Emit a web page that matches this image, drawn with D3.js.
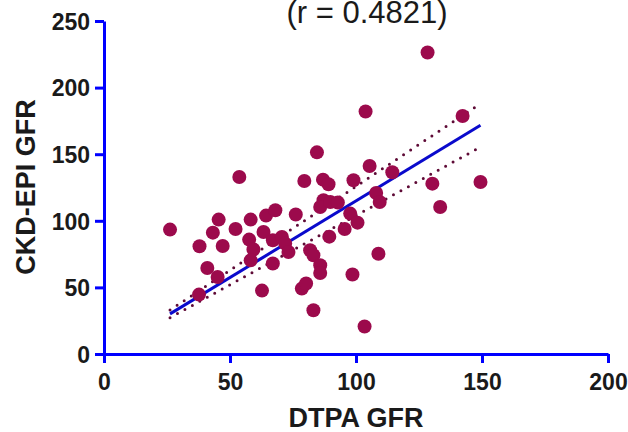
<!DOCTYPE html>
<html>
<head>
<meta charset="utf-8">
<script src="https://cdn.jsdelivr.net/npm/d3@7"></script>
<style>
  body { margin: 0; background: #fff; }
  svg { display: block; font-family: "Liberation Sans", Arial, sans-serif; }
</style>
</head>
<body>
<div id="chart"></div>
<script>
// DTPA GFR (x) vs CKD-EPI GFR (y)
var dtpa = [26.2, 37.9, 37.7, 41.0, 43.2, 45.5, 47.1, 45.1, 52.2, 53.7,
            58.2, 57.6, 59.3, 58.2, 62.7, 63.3, 64.3, 68.0, 67.0, 67.0,
            70.6, 71.9, 73.2, 76.1, 79.5, 84.5, 86.9, 89.1, 99.0, 105.4,
            114.4, 87.1, 85.8, 89.8, 92.8, 97.7, 100.6, 95.5, 89.4, 108.0,
            109.4, 81.8, 83.1, 85.8, 85.8, 108.9, 98.6, 78.5, 80.2, 83.1,
            103.4, 128.4, 142.3, 130.3, 149.4, 103.8, 133.4];
var ckdEpi = [93.4, 80.9, 44.6, 64.6, 91.1, 100.9, 81.1, 57.8, 93.8, 132.9,
              100.9, 85.9, 78.4, 70.3, 47.6, 91.6, 103.9, 107.9, 85.4, 67.9,
              87.8, 82.9, 76.6, 104.7, 129.9, 151.4, 130.9, 127.4, 130.4, 141.1,
              136.4, 115.4, 110.4, 114.1, 113.7, 105.4, 98.6, 93.8, 88.1, 120.9,
              114.1, 77.9, 74.1, 66.6, 60.8, 75.3, 59.7, 49.1, 52.9, 32.8,
              20.7, 226.3, 178.7, 127.9, 129.1, 182.1, 110.4];
var xTicks = [0, 50, 100, 150, 200];
var yTicks = [0, 50, 100, 150, 200, 250];
var rText = "(r = 0.4821)";

var W = 628, H = 432;
var svg = d3.select('#chart').append('svg')
    .attr('width', W).attr('height', H);

var x = d3.scaleLinear().domain([0, 200]).range([104, 608]);
var y = d3.scaleLinear().domain([0, 250]).range([354, 21]);

var axisColor = '#0000ff';

// fit through origin + 95% band
var pts = dtpa.map(function(d, i){ return {x: d, y: ckdEpi[i]}; });
var sxx = d3.sum(pts, function(p){ return p.x * p.x; });
var sxy = d3.sum(pts, function(p){ return p.x * p.y; });
var slope = sxy / sxx;
var n = pts.length;
var sse = d3.sum(pts, function(p){ var e = p.y - slope * p.x; return e * e; });
var se = Math.sqrt(sse / (n - 1)) / Math.sqrt(sxx);
var tval = 2.003;
var xr = d3.extent(dtpa);
var fitX = d3.range(xr[0], xr[1] + 0.001, (xr[1] - xr[0]) / 40);

var line = d3.line().x(function(d){ return x(d[0]); }).y(function(d){ return y(d[1]); });

// axes
var gx = svg.append('g').attr('transform', 'translate(0,' + y(0) + ')')
    .call(d3.axisBottom(x).tickValues(xTicks).tickSize(9).tickSizeOuter(0).tickPadding(11));
var gy = svg.append('g').attr('transform', 'translate(' + x(0) + ',0)')
    .call(d3.axisLeft(y).tickValues(yTicks).tickSize(9).tickSizeOuter(0).tickPadding(5));
[gx, gy].forEach(function(g){
  g.select('.domain').attr('stroke', axisColor).attr('stroke-width', 3);
  g.selectAll('.tick line').attr('stroke', axisColor).attr('stroke-width', 3);
  g.selectAll('.tick text').attr('fill', '#1a1a1a')
    .attr('font-size', '23px').attr('font-weight', 'bold')
    .attr('font-family', '"Liberation Sans", Arial, sans-serif');
});
gy.selectAll('.tick text').attr('dy', '0.36em');

// confidence band (dotted)
[1, -1].forEach(function(sgn){
  svg.append('path')
    .datum(fitX.map(function(v){ return [v, slope * v + sgn * tval * se * v]; }))
    .attr('d', line)
    .attr('fill', 'none')
    .attr('stroke', '#5e0a36')
    .attr('stroke-width', 3)
    .attr('stroke-linecap', 'round')
    .attr('stroke-dasharray', '0 8.5');
});

// fitted line
svg.append('path')
  .datum([[xr[0], slope * xr[0]], [xr[1], slope * xr[1]]])
  .attr('d', line)
  .attr('fill', 'none')
  .attr('stroke', '#0a0acc')
  .attr('stroke-width', 3);

// points
svg.append('g').selectAll('circle')
  .data(pts).enter().append('circle')
  .attr('cx', function(d){ return x(d.x); })
  .attr('cy', function(d){ return y(d.y); })
  .attr('r', 7)
  .attr('fill', '#9c0a4c');

// titles
svg.append('text')
  .attr('x', 367).attr('y', 23)
  .attr('text-anchor', 'middle')
  .attr('font-size', '31px')
  .attr('fill', '#1a1a1a')
  .text(rText);

svg.append('text')
  .attr('x', 356).attr('y', 427)
  .attr('text-anchor', 'middle')
  .attr('font-size', '27px').attr('font-weight', 'bold')
  .attr('fill', '#1a1a1a')
  .text('DTPA GFR');

svg.append('text')
  .attr('transform', 'translate(35,187) rotate(-90)')
  .attr('text-anchor', 'middle')
  .attr('font-size', '27px').attr('font-weight', 'bold')
  .attr('fill', '#1a1a1a')
  .text('CKD-EPI GFR');
</script>
</body>
</html>
